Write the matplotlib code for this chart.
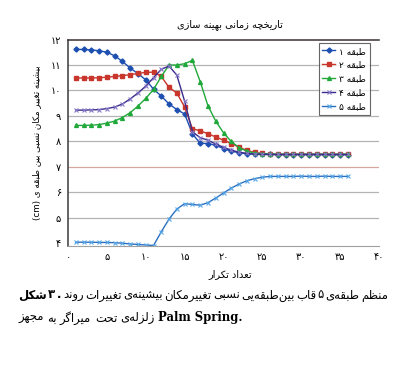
# تاریخچه زمانی بهینه سازی - پنج طبقه
import re
import matplotlib
matplotlib.use('Agg')
import matplotlib.pyplot as plt
import numpy as np

iters = list(range(1, 37))
floor1 = [11.61, 11.61, 11.59, 11.56, 11.50, 11.36, 11.14, 10.88, 10.66, 10.42, 10.05, 9.78,
          9.47, 9.25, 9.08, 8.30, 7.93, 7.92, 7.85, 7.72, 7.62, 7.56, 7.52, 7.50,
          7.49, 7.49, 7.48, 7.48, 7.48, 7.48, 7.48, 7.48, 7.48, 7.48, 7.48, 7.48]
floor2 = [10.49, 10.49, 10.49, 10.50, 10.52, 10.55, 10.58, 10.62, 10.67, 10.71, 10.72, 10.55,
          10.12, 9.90, 9.35, 8.50, 8.42, 8.30, 8.18, 8.05, 7.92, 7.78, 7.65, 7.57,
          7.53, 7.51, 7.50, 7.50, 7.50, 7.50, 7.50, 7.50, 7.50, 7.50, 7.50, 7.50]
floor3 = [8.63, 8.63, 8.64, 8.66, 8.72, 8.80, 8.94, 9.13, 9.39, 9.69, 10.04, 10.55,
          11.00, 11.00, 11.05, 11.18, 10.35, 9.40, 8.80, 8.34, 8.00, 7.76, 7.62, 7.55,
          7.52, 7.51, 7.50, 7.50, 7.50, 7.50, 7.50, 7.50, 7.50, 7.50, 7.50, 7.50]
floor4 = [9.23, 9.23, 9.24, 9.25, 9.29, 9.35, 9.47, 9.67, 9.90, 10.17, 10.50, 10.83,
          10.96, 10.60, 9.58, 8.38, 8.15, 8.05, 7.90, 7.77, 7.66, 7.58, 7.53, 7.51,
          7.50, 7.49, 7.49, 7.49, 7.49, 7.49, 7.49, 7.49, 7.49, 7.49, 7.49, 7.49]
floor5 = [4.05, 4.05, 4.05, 4.04, 4.04, 4.03, 4.01, 3.98, 3.96, 3.94, 3.92, 4.46,
          4.96, 5.35, 5.56, 5.53, 5.50, 5.60, 5.78, 5.98, 6.17, 6.33, 6.46, 6.54,
          6.60, 6.63, 6.63, 6.63, 6.63, 6.64, 6.63, 6.63, 6.64, 6.63, 6.63, 6.63]

labels = ['طبقه ۱', 'طبقه ۲', 'طبقه ۳', 'طبقه ۴', 'طبقه ۵']
title = 'تاریخچه زمانی بهینه سازی'
xlabel = 'تعداد تکرار'
ylabel = 'بیشینه تغییر مکان نسبی بین طبقه ی (cm)'
cap1_bold = ['شکل', '۳', '.']
cap1 = ['روند', 'تغییرات', 'بیشینه‌ی', 'تغییرمکان', 'نسبی', 'بین‌طبقه‌یی', 'قاب', '۵', 'طبقه‌ی', 'منظم']
cap2 = ['مجهز', 'به', 'میراگر', 'تحت', 'زلزله‌ی']
cap2_latin = 'Palm Spring.'

# matplotlib does no Arabic shaping, so pick presentation forms by hand
DUAL = {'ب': 0xFE8F, 'ت': 0xFE95, 'ج': 0xFE9D, 'ح': 0xFEA1, 'خ': 0xFEA5, 'س': 0xFEB1,
        'ش': 0xFEB5, 'ط': 0xFEC1, 'ظ': 0xFEC5, 'ع': 0xFEC9, 'غ': 0xFECD, 'ف': 0xFED1,
        'ق': 0xFED5, 'ل': 0xFEDD, 'م': 0xFEE1, 'ن': 0xFEE5, 'ه': 0xFEE9, 'ی': 0xFBFC,
        'ک': 0xFB8E, 'گ': 0xFB92, 'چ': 0xFB7A, 'پ': 0xFB56}
RIGHT = {'ا': 0xFE8D, 'د': 0xFEA9, 'ذ': 0xFEAB, 'ر': 0xFEAD, 'ز': 0xFEAF, 'و': 0xFEED, 'ژ': 0xFB8A}


def shape(word):
    out = []
    for i, ch in enumerate(word):
        prev = word[i - 1] if i > 0 else ''
        nxt = word[i + 1] if i + 1 < len(word) else ''
        if ch in DUAL:
            base = DUAL[ch]
            join_next = nxt in DUAL or nxt in RIGHT
        elif ch in RIGHT:
            base = RIGHT[ch]
            join_next = False
        else:
            if ch != '\u200c':
                out.append(ch)
            continue
        join_prev = prev in DUAL
        if join_prev and join_next:
            k = 3
        elif join_prev:
            k = 1
        elif join_next:
            k = 2
        else:
            k = 0
        out.append(chr(base + k))
    return ''.join(out)


def fa_word(w):
    if re.search('[\u0621-\u06d3]', w):
        return shape(w)[::-1]
    return w


def fa(s, ltr_words=False):
    words = [fa_word(w) for w in s.split(' ')]
    if not ltr_words:
        words = words[::-1]
    return ' '.join(words)


def fa_num(v):
    return str(int(v)).translate(str.maketrans('0123456789', '۰۱۲۳۴۵۶۷۸۹'))


fig = plt.figure(figsize=(4.03, 3.91), dpi=100)
ax = fig.add_axes([68 / 403, 1 - 245.5 / 391, 311 / 403, 206 / 391])

ax.plot(iters, floor1, color='#1d4fb0', marker='D', ms=2.6, lw=1.0, label=fa(labels[0]))
ax.plot(iters, floor2, color='#c8362c', marker='s', ms=2.6, lw=1.0, label=fa(labels[1]))
ax.plot(iters, floor3, color='#20a83a', marker='^', ms=2.8, lw=1.0, label=fa(labels[2]))
ax.plot(iters, floor4, color='#3a2c8c', marker='x', ms=3.2, mec='#8878c8', mew=0.8, lw=1.0,
        label=fa(labels[3]))
ax.plot(iters, floor5, color='#2c6fbf', marker='x', ms=3.2, mec='#58a8e8', mew=0.8, lw=1.0,
        label=fa(labels[4]))

ax.set_xlim(0, 40)
ax.set_ylim(3.92, 12)
ax.set_xticks(range(0, 41, 5))
ax.set_yticks(range(4, 13))
ax.set_xticklabels([fa_num(v) for v in range(0, 41, 5)], fontsize=7)
ax.set_yticklabels([fa_num(v) for v in range(4, 13)], fontsize=7)
ax.tick_params(length=0, pad=5)

for v in range(5, 12):
    ax.axhline(v, color='#d6a8a0' if v == 7 else '#b4b4b4', lw=0.9, zorder=0)

ax.spines['right'].set_visible(False)
ax.spines['top'].set_color('#3a3030')
ax.spines['top'].set_linewidth(1.1)
ax.spines['left'].set_color('#3a3a3a')
ax.spines['left'].set_linewidth(1.1)
ax.spines['bottom'].set_color('#a0a0a0')

ax.set_title(fa(title), fontsize=7, pad=9, x=0.521)
ax.set_xlabel(fa(xlabel), fontsize=7, labelpad=5, x=0.521)
ax.set_ylabel(fa(ylabel), fontsize=6.3, labelpad=7)

leg = ax.legend(loc='upper right', bbox_to_anchor=(0.971, 0.983), borderaxespad=0,
                fontsize=6.5, frameon=True, fancybox=False, edgecolor='#404040',
                handlelength=1.4, handletextpad=0.5, labelspacing=0.55, borderpad=0.4)
leg.get_frame().set_linewidth(0.8)

# caption: words laid out left to right as in the source
fig.canvas.draw()
rend = fig.canvas.get_renderer()
W, H = 403.0, 391.0


def put_words(words, y, x0, x1=None, size=8.4):
    objs = []
    for w, bold, fam in words:
        t = fig.text(0, 1 - y / H, w, fontsize=size, va='center', ha='left',
                     fontweight='bold' if bold else 'normal', family=fam)
        objs.append(t)
    widths = [t.get_window_extent(rend).width for t in objs]
    space = size * 100 / 72 * 0.3
    if x1 is not None:
        space = (x1 - x0 - sum(widths)) / (len(objs) - 1)
    x = x0
    for t, wd in zip(objs, widths):
        t.set_x(x / W)
        x += wd + space


line1 = [(fa_word(w), True, 'DejaVu Sans') for w in cap1_bold] + \
        [(fa_word(w), False, 'DejaVu Sans') for w in cap1]
line2 = [(fa_word(w), False, 'DejaVu Sans') for w in cap2] + [(cap2_latin, True, 'DejaVu Serif')]
put_words(line1, 295, 18, 388)
put_words(line2, 318, 18)

fig.savefig('out.png', dpi=100)
